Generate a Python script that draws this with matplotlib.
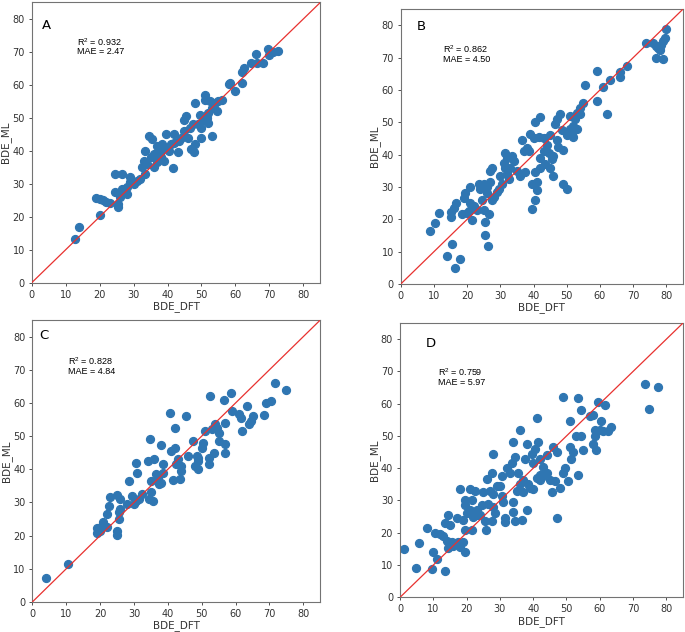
import matplotlib.pyplot as plt
import numpy as np

# panel A
a_dft = [12.7, 14, 20, 19, 20, 21, 22, 23, 24.5, 26.5, 24.5, 25.3, 25.3, 26, 26.5, 27, 28, 28, 29, 29,
         30, 31, 32, 32.5, 33, 33.5, 34, 33.5, 34.5, 35, 35.5, 36, 36, 37, 37, 38, 38, 38.5, 39, 39.5,
         40, 40.5, 41.5, 41, 42, 42, 43, 43.5, 44, 45, 45, 45.5, 46, 46.5, 47, 47.5, 47.8, 48, 48, 49,
         49.5, 50, 50, 50.5, 51, 51, 51.5, 52, 52, 52.5, 53, 53, 54, 54.5, 55, 56, 58, 58.5, 60, 62,
         62, 62.5, 64.5, 66, 66.5, 68, 69.5, 70, 71, 72.5]
a_ml = [13.3, 16.8, 20.6, 25.8, 25.5, 25, 24.5, 24.2, 33, 33, 27.5, 23, 24, 26, 28.5, 27.5, 27, 29, 32, 30.5,
        30, 30.8, 31.5, 35, 37, 40, 36, 33, 44.5, 38, 43.5, 35, 39, 36.5, 41.5, 38, 40, 42, 37, 45,
        41, 40, 34.8, 42, 45, 42.5, 39.5, 43, 44, 46, 49.5, 50.5, 44, 47, 40.5, 48, 39.5, 54.5, 42, 48,
        51, 44, 47, 49.5, 57, 55.5, 50, 48.5, 51.5, 55, 44.5, 53, 54.5, 52, 55, 55.5, 60.3, 60.5, 58, 60.5,
        64, 65, 66.5, 69.3, 66.5, 66.5, 71, 69, 70, 70.3]

# panel B
b_dft = [8.7, 10.2, 11.4, 14, 15, 15, 15.5, 16, 16.5, 16.2, 17.8, 18.5, 19, 19.5, 20, 20.5, 21, 21.5, 21, 22,
         23, 23.5, 24, 24.5, 25, 25, 25.5, 25.5, 26, 26, 26.2, 26.5, 27, 27, 27.5, 27.5, 28, 29, 29.5, 30,
         30.5, 31, 31.5, 31.5, 32, 32, 32.5, 33, 33.5, 34, 35, 36, 36.5, 37, 37.5, 38, 38.5, 39, 39.5, 39.5,
         40, 40.5, 40.5, 41, 41, 40.5, 41.5, 42, 42, 42, 43, 43, 43.5, 44, 44.5, 45, 45, 45.5, 46, 46,
         46.5, 47, 47, 47.5, 48, 48.5, 49, 49, 50, 50, 51, 51, 51.5, 52, 52, 52.5, 53, 53, 54, 54,
         55, 55.5, 59, 59, 61, 62, 63, 66, 66, 68, 74, 76, 77, 77.5, 78, 78.5, 79, 79.5, 79, 80, 77]
b_ml = [16.3, 18.8, 22, 8.6, 22.2, 20.7, 12.5, 23.5, 25, 4.8, 7.8, 21.5, 26.5, 28, 22, 22.5, 25, 19.8, 30, 24,
        23, 31, 29.5, 26, 23, 31, 19.3, 15.2, 28, 30, 11.8, 21.5, 35, 31.5, 36, 26, 27, 28.5, 29.5, 33.5,
        31, 37.5, 40.5, 36, 34, 39, 32.5, 36, 39.5, 38, 35, 33.5, 44.5, 41, 34.5, 42, 41, 46.5, 31, 23.2,
        45, 34.5, 26, 31.5, 29, 50, 45.5, 51.5, 39, 36, 45, 41, 37, 43, 40.5, 46, 36, 38.5, 33.5, 39.5,
        49.5, 51, 44.5, 42.5, 52.5, 47.5, 41.5, 31, 46, 29.5, 48, 52, 46, 49, 45.5, 51, 53, 48, 52.5, 54.5,
        56, 61.5, 66, 56.5, 60.8, 52.5, 63, 65.5, 64, 67.5, 74.5, 74.5, 70, 73, 72.5, 74, 69.5, 76, 75, 79, 73.5]

# panel C
c_dft = [3.9, 10.5, 19, 19, 20, 20.5, 21, 22, 22, 22.5, 23, 25, 25, 25, 25.5, 25.5, 26, 26, 28, 28.5,
         29.5, 30, 30.5, 30.5, 31, 31.5, 32.5, 34, 34.5, 34.8, 35, 35, 35.5, 36, 36.5, 37, 37.5, 38, 38, 38.5,
         38.5, 40.5, 41, 41.5, 42, 42, 42.5, 43, 43.5, 44, 44, 45.5, 46, 47.5, 48, 48.5, 49, 49, 49, 50,
         50.5, 51, 52, 52, 52.5, 53, 53.5, 54, 54.5, 55, 55, 56.5, 57, 57, 57, 58.5, 59, 61, 61.5, 62,
         63.5, 64, 64.5, 65, 68.5, 69, 70.5, 71.5, 75]
c_ml = [7.3, 11.5, 20.8, 22.2, 21.5, 23, 24, 22.5, 26.5, 29, 31.5, 32.2, 21.5, 20.3, 27, 25, 31, 28, 29.5, 36.5,
        32, 29.5, 42, 30.5, 39, 31, 32.5, 42.5, 31, 49, 36.5, 33, 30.5, 43, 38.5, 37.5, 35.5, 47.3, 36, 41.5,
        39, 57, 45.5, 36.7, 52.5, 46.5, 41.5, 43, 37, 39.5, 41, 56, 44, 48.5, 41, 44, 42.5, 40, 43.5, 46.5,
        48, 51.5, 43.5, 41.5, 62, 52, 45, 53.5, 52.5, 51, 48.5, 61, 54, 47.5, 45, 63, 57.5, 56.8, 55.5, 51.5,
        59, 53.5, 54.5, 56, 56.5, 60, 60.5, 66, 64]

# panel D
d_dft = [1.3, 4.8, 5.7, 8, 9.5, 10, 10.5, 11, 12, 13, 13.5, 13.5, 14, 14.5, 14.5, 15, 15.5, 16, 17, 17.5,
         18, 18, 19, 19, 19.5, 19.5, 19.5, 19.5, 20, 21, 21, 21.5, 21.5, 22, 22.5, 23, 23.5, 24, 24.5, 25,
         25.5, 25.8, 26, 26.5, 27, 27.5, 27.5, 28, 28, 28, 28.5, 29, 30, 30.5, 30.5, 31, 31.5, 31.5, 32, 33,
         33.5, 34, 34, 34, 34.5, 34.5, 35, 35.5, 36, 36, 36.5, 37, 37, 37.5, 38, 38, 38.5, 39, 39.5, 40,
         40, 40.5, 41, 41, 41.5, 42, 42, 42, 43, 43, 44, 44, 45, 45.5, 46, 46.5, 47, 47, 48, 49,
         49, 49.5, 50.5, 51, 51, 51.5, 52, 53, 53.5, 53.5, 54.5, 54.5, 55, 57, 58, 58, 58.5, 58.5, 59, 59.5,
         60, 60.5, 61, 61.5, 62.5, 63.5, 73.7, 74.8, 77.5]
d_ml = [15, 9, 16.7, 21.5, 8.8, 14, 20, 12, 19.5, 19, 23, 8.2, 17.5, 25.5, 15.3, 22.5, 17, 16, 24.5, 17,
        33.5, 15.5, 17, 24, 28.5, 30, 20.8, 14, 26, 27, 33.5, 20.8, 30, 25, 33, 27, 25.5, 25.5, 28.5, 32.5,
        23.5, 20.8, 36.7, 29, 33, 23.5, 38.5, 32, 28, 44.5, 26, 34.5, 34.5, 31.5, 37.5, 29.5, 24.5, 23.3, 40, 38.5,
        41.5, 48, 29.5, 26.5, 43.5, 23.8, 33, 38.5, 52, 35, 24, 32.5, 36.5, 43, 47.5, 27, 35, 34, 44.5, 41.5,
        33.5, 46, 37, 55.5, 48, 43, 38, 36.5, 40.5, 37.5, 44, 38.5, 36.5, 32.7, 46.5, 36, 45, 24.7, 34, 62,
        38.5, 40, 36, 54.5, 46.5, 43, 45, 50, 61.8, 38, 58, 50, 45.5, 56.3, 56.5, 47.5, 52, 50, 45.5, 60.5,
        52, 54.5, 51.5, 59.5, 51.5, 52.8, 66, 58.2, 65.3]

panels = [
    ('A', a_dft, a_ml, '0.932', '2.47', [0.0463, 0.5527, 0.4213, 0.4434], (3, 78), (13.2, 73), (13.2, 70.2)),
    ('B', b_dft, b_ml, '0.862', '4.50', [0.585, 0.5506, 0.4121, 0.435], (4.8, 79.6), (12.8, 72.7), (12.8, 69.5)),
    ('C', c_dft, c_ml, '0.828', '4.84', [0.0472, 0.0475, 0.4204, 0.4462], (2, 80.2), (10.6, 72.5), (10.6, 69.5)),
    ('D', d_dft, d_ml, '0.759', '5.97', [0.584, 0.0549, 0.4131, 0.434], (7.8, 78.8), (11.5, 69.8), (11.5, 66.7)),
]

fig = plt.figure(figsize=(6.85, 6.32), dpi=100)
for name, x, y, r2, mae, pos, lpos, rpos, mpos in panels:
    ax = fig.add_axes(pos)
    ax.scatter(x, y, s=32, color='#2f76b2', zorder=2)
    ax.plot([0, 85], [0, 85], color='#e8312f', lw=0.9, zorder=3)
    ax.set_xlim(0, 85)
    ax.set_ylim(0, 85)
    ax.set_xticks(np.arange(0, 81, 10))
    ax.set_yticks(np.arange(0, 81, 10))
    ax.tick_params(labelsize=7, length=2.5, width=0.6, pad=2.5, colors='#333333')
    for sp in ax.spines.values():
        sp.set_color('0.45')
        sp.set_linewidth(0.8)
    ax.set_xlabel('BDE_DFT', fontsize=7.5, labelpad=1, color='#333333')
    ax.set_ylabel('BDE_ML', fontsize=7.5, color='#333333')
    ax.yaxis.set_label_coords(-0.072, 0.5)
    ax.text(lpos[0], lpos[1], name, fontsize=9.5, va='center', ha='left')
    ax.text(rpos[0], rpos[1], '$\\mathregular{R^2}$ = ' + r2, fontsize=6.5, va='center', ha='left',
            family='Liberation Sans')
    ax.text(mpos[0], mpos[1], 'MAE = ' + mae, fontsize=6.5, va='center', ha='left', family='Liberation Sans')

fig.savefig('out.png', dpi=100)
